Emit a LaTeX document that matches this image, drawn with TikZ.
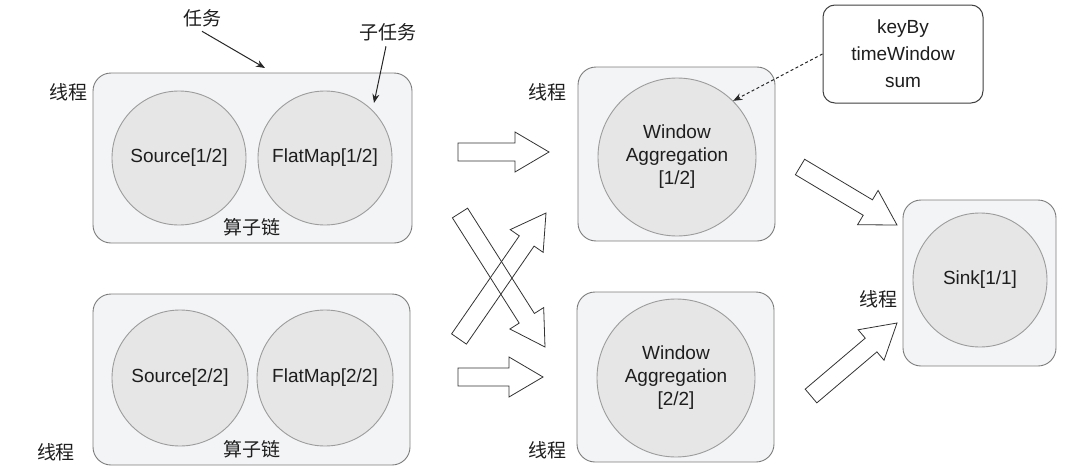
\documentclass[tikz,border=0pt]{standalone}
\usepackage{fontspec}
\setmainfont{Liberation Sans}
\newfontfamily\cjk{Noto Sans CJK SC}
\usetikzlibrary{arrows.meta,calc}
\definecolor{boxfill}{HTML}{F3F4F6}
\definecolor{boxline}{HTML}{7C7C7C}
\definecolor{circfill}{HTML}{E6E6E6}
\definecolor{circline}{HTML}{9C9C9C}
\definecolor{txt}{HTML}{1E1E1E}
\newcommand\hollowarrow[2]{%
  \coordinate (hb) at ($(#2)!34pt!(#1)$);
  \draw[harrow] ($(#1)!9pt!90:(#2)$) -- ($(hb)!9pt!-90:(#1)$) -- ($(hb)!20pt!-90:(#1)$)
    -- (#2) -- ($(hb)!20pt!90:(#1)$) -- ($(hb)!9pt!90:(#1)$) -- ($(#1)!9pt!-90:(#2)$) -- cycle;
}
\begin{document}
\begin{tikzpicture}[x=1pt,y=-1pt,
  every node/.style={text=txt,font=\fontsize{19}{23}\selectfont},
  thread/.style={draw=boxline,fill=boxfill,rounded corners=18pt,line width=0.9pt,inner sep=0pt},
  op/.style={circle,draw=circline,fill=circfill,line width=0.9pt,inner sep=0pt,align=center},
  lbl/.style={font=\cjk\fontsize{19}{23}\selectfont},
  harrow/.style={draw=black!80,line width=0.8pt,line join=miter},
  pointer/.style={draw=black!85,line width=1pt,-{Stealth[length=9pt,width=7pt]}}]
\useasboundingbox (0,0) rectangle (1080,474);

% thread boxes
\node[thread,minimum width=319pt,minimum height=170pt] (t1) at (252.5,158) {};
\node[thread,minimum width=317pt,minimum height=171pt] (t2) at (251.5,379.5) {};
\node[thread,minimum width=197pt,minimum height=174pt] (t3) at (676.5,154) {};
\node[thread,minimum width=197pt,minimum height=170pt] (t4) at (675.5,377) {};
\node[thread,minimum width=153pt,minimum height=166pt] (t5) at (979.5,283) {};

% operators
\node[op,minimum size=134pt] (s1) at (179,158) {Source[1/2]};
\node[op,minimum size=134pt] (f1) at (325,158) {FlatMap[1/2]};
\node[op,minimum size=136pt] (s2) at (180,378) {Source[2/2]};
\node[op,minimum size=136pt] (f2) at (325,378) {FlatMap[2/2]};
\node[op,minimum size=158pt] (w1) at (677,157) {Window\\Aggregation\\{}[1/2]};
\node[op,minimum size=158pt] (w2) at (676,378) {Window\\Aggregation\\{}[2/2]};
\node[op,minimum size=134pt] (sk) at (980,280) {Sink[1/1]};

% config box
\node[draw=black!75,fill=white,rounded corners=12pt,line width=1pt,minimum width=160pt,minimum height=98pt,align=center,font=\fontsize{19}{27}\selectfont] (kb) at (903,54) {keyBy\\timeWindow\\sum};

% labels
\node[lbl] (l1) at (68,92) {线程};
\node[lbl] (l2) at (56,452) {线程};
\node[lbl] (l3) at (547,92) {线程};
\node[lbl] (l4) at (547,450) {线程};
\node[lbl] (l5) at (878,299) {线程};
\node[lbl] (c1) at (252,227) {算子链};
\node[lbl] (c2) at (252,449) {算子链};
\node[lbl] (task) at (202,18) {任务};
\node[lbl] (sub) at (388,32) {子任务};

% pointers
\coordinate (taskend) at (265,68);
\coordinate (subend) at (374,103);
\draw[pointer] (task.south) ++(0,1) -- (taskend);
\draw[pointer] (sub.south) ++(-2,2) -- (subend);
\draw[draw=black!85,line width=1pt,dash pattern=on 3pt off 2.5pt,-{Stealth[length=9pt,width=7pt]}] (kb.west) -- (w1.45);

% hollow arrows
\coordinate (a1s) at (458,152); \coordinate (a1e) at (549,152);
\coordinate (a2s) at (458,377); \coordinate (a2e) at (543,377);
\coordinate (a3s) at (460,213); \coordinate (a3e) at (545,347);
\coordinate (a4s) at (459,339); \coordinate (a4e) at (546,213);
\coordinate (a5s) at (800,167); \coordinate (a5e) at (897,225);
\coordinate (a6s) at (811,396); \coordinate (a6e) at (897,323);
\hollowarrow{a1s}{a1e}
\hollowarrow{a2s}{a2e}
\hollowarrow{a3s}{a3e}
\hollowarrow{a4s}{a4e}
\hollowarrow{a5s}{a5e}
\hollowarrow{a6s}{a6e}
\end{tikzpicture}
\end{document}
